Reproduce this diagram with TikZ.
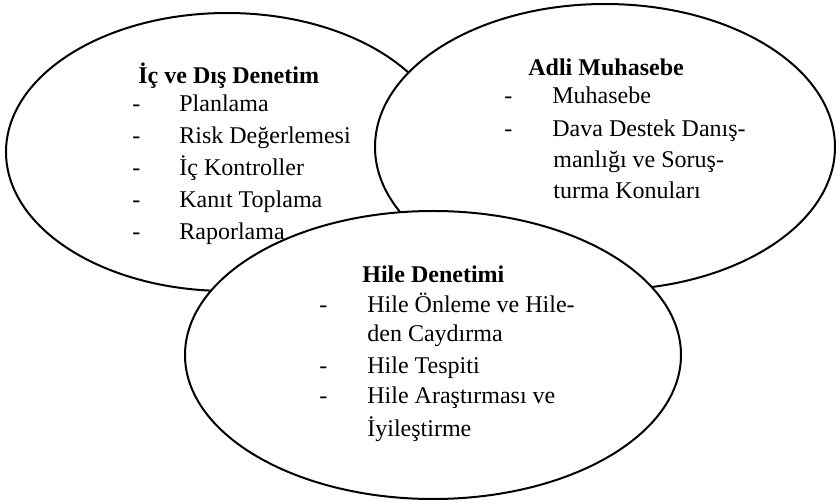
\documentclass[tikz,border=0pt]{standalone}
\usepackage{fontspec}
\setmainfont{Liberation Serif}
\usetikzlibrary{shapes.geometric}
\begin{document}
\begin{tikzpicture}[x=0.5pt,y=-0.5pt,
  ell/.style={ellipse, draw=black, line width=1pt, fill=white, inner sep=0pt, outer sep=0pt},
  ttl/.style={anchor=base west, inner sep=0pt, font=\fontsize{12}{14}\selectfont\bfseries},
  itm/.style={anchor=base west, inner sep=0pt, font=\fontsize{12}{14}\selectfont},
  dsh/.style={anchor=base west, inner sep=0pt, font=\fontsize{12}{14}\selectfont},
]
\useasboundingbox (0,0) rectangle (836,502);
% ellipses
\node[ell, minimum width=221pt, minimum height=139pt] (e1) at (227,152) {};
\node[ell, minimum width=230pt, minimum height=143pt] (e2) at (605,147) {};
\node[ell, minimum width=248pt, minimum height=144pt] (e3) at (433,355) {};
% ellipse 1
\node[ttl] (t1) at (138,84) {İç ve Dış Denetim};
\node[dsh] (d11) at (132,112) {-};
\node[itm] (i11) at (179,112) {Planlama};
\node[dsh] (d12) at (132,144) {-};
\node[itm] (i12) at (179,144) {Risk Değerlemesi};
\node[dsh] (d13) at (132,176) {-};
\node[itm] (i13) at (179,176) {İç Kontroller};
\node[dsh] (d14) at (132,208) {-};
\node[itm] (i14) at (179,208) {Kanıt Toplama};
\node[dsh] (d15) at (132,240) {-};
\node[itm] (i15) at (179,240) {Raporlama};
% ellipse 2
\node[ttl] (t2) at (528,76) {Adli Muhasebe};
\node[dsh] (d21) at (504,104) {-};
\node[itm] (i21) at (552,104) {Muhasebe};
\node[dsh] (d22) at (504,137) {-};
\node[itm] (i22) at (552,137) {Dava Destek Danış-};
\node[itm] (i23) at (553,168) {manlığı ve Soruş-};
\node[itm] (i24) at (553,199) {turma Konuları};
% ellipse 3
\node[ttl] (t3) at (362,283) {Hile Denetimi};
\node[dsh] (d31) at (319,313) {-};
\node[itm] (i31) at (367,313) {Hile Önleme ve Hile-};
\node[itm] (i32) at (367,342) {den Caydırma};
\node[dsh] (d33) at (319,373) {-};
\node[itm] (i33) at (367,373) {Hile Tespiti};
\node[dsh] (d34) at (319,404) {-};
\node[itm] (i34) at (367,404) {Hile Araştırması ve};
\node[itm] (i35) at (367,437) {İyileştirme};
\end{tikzpicture}
\end{document}
